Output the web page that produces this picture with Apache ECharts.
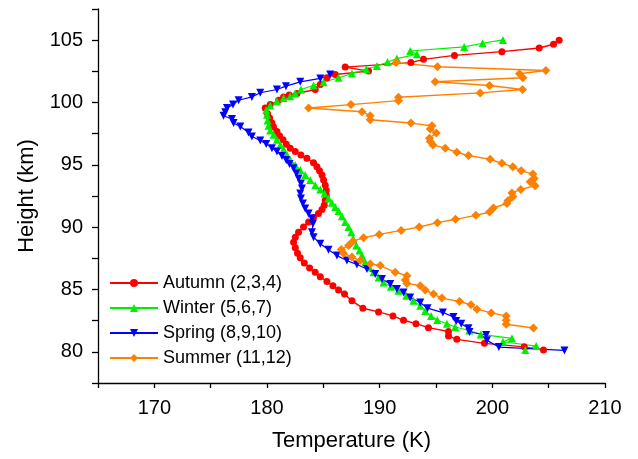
<!DOCTYPE html>
<html>
<head>
<meta charset="utf-8">
<script src="https://cdn.jsdelivr.net/npm/echarts@6/dist/echarts.min.js"></script>
<style>
html,body{margin:0;padding:0;background:#fff;}
#chart{width:638px;height:459px;}
</style>
</head>
<body>
<div id="chart"></div>
<script>
// ---- Data ----
const seriesNames = ['Autumn (2,3,4)', 'Winter (5,6,7)', 'Spring (8,9,10)', 'Summer (11,12)'];

const autumnTemp = [204.54,202.83,199.30,196.85,196.11,196.11,194.33,193.22,192.12,191.18,189.90,188.51,187.54,186.88,186.35,185.85,185.32,184.73,184.28,183.78,183.31,182.95,182.71,182.51,182.36,182.51,182.80,183.24,183.69,184.13,184.57,184.88,185.08,185.17,185.26,185.26,185.17,185.02,184.88,184.66,184.43,184.13,183.54,183.01,182.51,182.06,181.71,181.42,181.11,180.88,180.58,180.44,180.23,180.05,179.84,180.29,181.03,181.47,181.97,182.66,184.28,184.73,185.32,186.06,189.01,186.94,192.77,193.89,196.64,200.85,204.16,205.43,205.93];
const autumnHeight = [80.14,80.40,80.68,81.00,81.27,81.63,81.94,82.26,82.53,82.88,83.20,83.50,84.09,84.63,84.96,85.30,85.65,86.03,86.38,86.73,87.13,87.54,87.91,88.35,88.80,89.20,89.60,90.01,90.41,90.77,91.09,91.41,91.76,92.16,92.57,92.97,93.37,93.78,94.18,94.53,94.85,95.17,95.53,95.79,96.06,96.34,96.66,97.01,97.33,97.68,98.03,98.35,98.76,99.10,99.56,99.83,100.18,100.45,100.60,100.72,101.04,101.44,101.99,102.25,102.52,102.84,103.20,103.46,103.78,104.08,104.37,104.67,105.00];

const winterTemp = [202.92,203.89,200.94,201.74,198.98,197.95,196.70,195.97,195.11,194.57,194.04,193.60,193.00,192.36,191.67,191.00,190.34,189.90,189.45,189.10,188.72,188.43,188.21,187.92,187.65,187.48,187.24,186.94,186.65,186.35,186.06,185.76,185.46,185.11,184.73,184.28,183.84,183.39,182.95,182.51,182.06,181.77,181.47,181.18,180.88,180.58,180.29,180.14,180.05,180.00,179.93,180.29,180.88,181.47,182.06,182.51,183.01,184.13,185.02,186.35,187.54,188.81,189.76,190.70,191.53,193.31,192.71,197.50,199.13,200.94];
const winterHeight = [80.14,80.46,80.81,81.08,81.40,81.71,81.99,82.26,82.56,82.88,83.28,83.69,84.09,84.50,84.90,85.22,85.57,85.97,86.38,86.78,87.18,87.72,88.13,88.53,89.07,89.60,90.01,90.41,90.87,91.30,91.62,91.95,92.30,92.70,93.03,93.37,93.78,94.18,94.58,94.99,95.39,95.80,96.26,96.60,97.01,97.41,97.76,98.14,98.56,99.02,99.37,99.75,100.10,100.37,100.50,100.72,101.04,101.36,101.63,101.99,102.33,102.66,102.92,103.24,103.52,103.87,104.13,104.46,104.75,105.02];

const springTemp = [206.40,200.58,199.52,199.45,197.97,197.88,197.24,196.79,196.55,195.61,194.25,193.60,192.71,192.12,191.53,190.94,190.20,189.61,188.87,187.98,187.09,186.21,185.46,184.73,184.13,183.99,184.08,183.99,183.69,183.39,183.19,183.01,182.95,183.10,183.01,182.80,182.60,182.36,182.00,181.71,181.33,180.88,180.44,179.93,179.40,178.66,178.36,177.63,177.03,176.89,176.14,176.30,176.45,176.98,177.48,178.66,179.40,180.88,181.68,182.95,184.73,185.61];
const springHeight = [80.11,80.38,80.92,81.35,81.59,81.89,82.26,82.48,82.80,83.15,83.50,83.95,84.36,84.76,85.04,85.44,85.84,86.25,86.65,87.00,87.32,87.72,88.18,88.67,89.20,89.60,90.28,90.69,91.09,91.49,91.90,92.30,92.70,93.11,93.51,93.91,94.32,94.72,95.07,95.39,95.71,96.06,96.34,96.68,96.95,97.27,97.59,98.08,98.35,98.68,98.94,99.21,99.56,99.83,100.18,100.45,100.78,101.04,101.31,101.66,101.93,102.25];

const summerTemp = [203.65,201.23,201.23,201.23,199.90,198.63,198.10,197.09,195.52,194.78,194.04,193.60,192.42,192.27,192.42,191.38,190.05,189.16,188.27,187.54,186.79,186.59,187.24,187.63,188.57,189.96,191.91,193.51,195.13,196.73,198.54,199.75,200.10,201.29,201.38,201.82,201.74,202.53,203.80,203.36,203.71,203.60,202.56,201.82,200.85,199.81,197.88,196.85,195.82,194.73,194.49,194.42,195.02,194.49,194.64,192.77,189.16,189.16,188.43,183.69,187.45,191.67,191.67,198.92,202.68,199.75,194.93,202.71,202.41,204.75,195.13,191.47];
const summerHeight = [81.91,82.21,82.53,82.88,83.12,83.42,83.77,84.04,84.31,84.63,84.96,85.30,85.49,85.76,86.11,86.38,86.92,87.05,87.32,87.60,87.91,88.21,88.53,88.88,89.15,89.42,89.74,90.01,90.36,90.63,90.95,91.22,91.54,91.90,92.11,92.43,92.75,93.03,93.32,93.64,93.91,94.26,94.53,94.85,95.12,95.45,95.74,96.01,96.34,96.60,96.87,97.14,97.55,97.87,98.14,98.35,98.62,98.94,99.26,99.56,99.83,100.15,100.42,100.77,101.04,101.36,101.66,101.99,102.31,102.57,102.87,103.20];

const xTicksLabeled = [170, 180, 190, 200, 210];
const yTicksLabeled = [80, 85, 90, 95, 100, 105];

function pairs(xs, ys) { return xs.map((x, i) => [x, ys[i]]); }

const FONT = 'Liberation Sans, Arial, Helvetica, sans-serif';
const downTri = 'path://M0,0 L10,0 L5,9 Z';

const chart = echarts.init(document.getElementById('chart'), null, {renderer: 'canvas'});
chart.setOption({
  animation: false,
  backgroundColor: '#ffffff',
  textStyle: {fontFamily: FONT, color: '#000'},
  grid: {left: 98, right: 33, top: 9, bottom: 76, containLabel: false},
  legend: {
    left: 104, top: 269, orient: 'vertical',
    itemWidth: 48, itemHeight: 10, itemGap: 7,
    textStyle: {fontFamily: FONT, fontSize: 18, color: '#000'},
    data: seriesNames
  },
  xAxis: {
    type: 'value', min: 165, max: 210, interval: 5,
    name: 'Temperature (K)', nameLocation: 'middle', nameGap: 47,
    nameTextStyle: {fontFamily: FONT, fontSize: 22, color: '#000'},
    axisLine: {show: true, onZero: false, lineStyle: {color: '#000', width: 1.3}},
    axisTick: {show: true, inside: false, length: 5, lineStyle: {color: '#000', width: 1.3}},
    axisLabel: {fontFamily: FONT, fontSize: 20, color: '#000', margin: 15,
      formatter: v => xTicksLabeled.includes(v) ? String(v) : ''},
    splitLine: {show: false}
  },
  yAxis: {
    type: 'value', min: 77.5, max: 107.5, interval: 2.5,
    name: 'Height (km)', nameLocation: 'middle', nameGap: 60, nameRotate: 90,
    nameTextStyle: {fontFamily: FONT, fontSize: 22, color: '#000'},
    axisLine: {show: true, onZero: false, lineStyle: {color: '#000', width: 1.3}},
    axisTick: {show: true, inside: false, length: 6, lineStyle: {color: '#000', width: 1.3}},
    axisLabel: {fontFamily: FONT, fontSize: 20, color: '#000', margin: 15,
      formatter: v => yTicksLabeled.includes(v) ? String(v) : ''},
    splitLine: {show: false}
  },
  series: [
    {name: seriesNames[0], type: 'line', data: pairs(autumnTemp, autumnHeight),
     symbol: 'circle', symbolSize: 7, color: '#ff0000',
     lineStyle: {color: '#ff0000', width: 1.4}, itemStyle: {color: '#ff0000'}},
    {name: seriesNames[1], type: 'line', data: pairs(winterTemp, winterHeight),
     symbol: 'triangle', symbolSize: 8, color: '#00ee00',
     lineStyle: {color: '#00ee00', width: 1.1}, itemStyle: {color: '#00ee00'}},
    {name: seriesNames[2], type: 'line', data: pairs(springTemp, springHeight),
     symbol: downTri, symbolSize: [8, 8], color: '#0000ff',
     lineStyle: {color: '#0000ff', width: 1.2}, itemStyle: {color: '#0000ff'}},
    {name: seriesNames[3], type: 'line', data: pairs(summerTemp, summerHeight),
     symbol: 'diamond', symbolSize: 9, color: '#ff8000',
     lineStyle: {color: '#ff8000', width: 1.4}, itemStyle: {color: '#ff8000'}}
  ]
});
</script>
</body>
</html>
